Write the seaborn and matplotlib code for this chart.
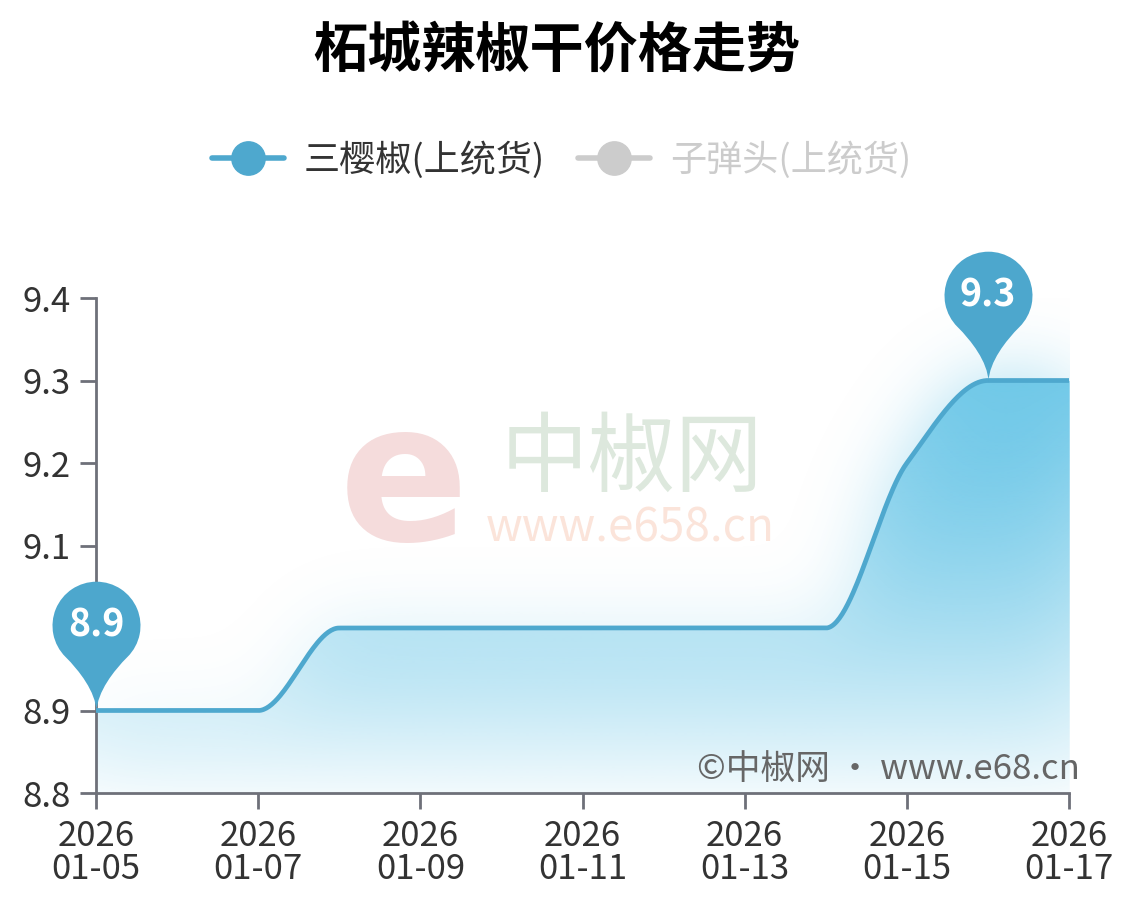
import numpy as np
import matplotlib
matplotlib.use("Agg")
import matplotlib.pyplot as plt
from matplotlib.path import Path
from matplotlib.lines import Line2D
from matplotlib.markers import MarkerStyle
from matplotlib.colors import to_rgb
import pandas as pd
import seaborn as sns

# 数据
year = "2026"
dates = ["01-05", "01-06", "01-07", "01-08", "01-09", "01-10", "01-11",
         "01-12", "01-13", "01-14", "01-15", "01-16", "01-17"]
prices = [8.9, 8.9, 8.9, 9.0, 9.0, 9.0, 9.0, 9.0, 9.0, 9.0, 9.2, 9.3, 9.3]
series_names = ["三樱椒(上统货)", "子弹头(上统货)"]
y_ticks = [8.8, 8.9, 9.0, 9.1, 9.2, 9.3, 9.4]
y_labels = ["8.8", "8.9", "", "9.1", "9.2", "9.3", "9.4"]
title = "柘城辣椒干价格走势"

LINE = "#4ea8ce"
PIN = "#4da7cd"
AXIS = "#6e7079"
FILL = np.array(to_rgb("#62c3e6"))

sns.set_theme(style="ticks")
plt.rcParams['font.family'] = ['Noto Sans CJK SC', 'DejaVu Sans']
plt.rcParams['axes.unicode_minus'] = False

df = pd.DataFrame({"date": dates, "price": prices})
df["x"] = np.arange(len(df))


def smooth_curve(xs, ys):
    # 单调三次贝塞尔曲线 (不过冲), 返回采样点
    xs = np.asarray(xs, float)
    ys = np.asarray(ys, float)
    h = np.diff(xs)
    d = np.diff(ys) / h
    m = np.zeros_like(ys)
    for i in range(1, len(ys) - 1):
        if d[i - 1] * d[i] > 0:
            m[i] = 2 / (1 / d[i - 1] + 1 / d[i])
    verts = [(xs[0], ys[0])]
    codes = [Path.MOVETO]
    for i in range(len(xs) - 1):
        verts += [(xs[i] + h[i] / 3, ys[i] + m[i] * h[i] / 3),
                  (xs[i + 1] - h[i] / 3, ys[i + 1] - m[i + 1] * h[i] / 3),
                  (xs[i + 1], ys[i + 1])]
        codes += [Path.CURVE4] * 3
    ts = np.linspace(0, 1, 60)
    pts = [np.array(verts[:1])]
    for seg, _ in Path(verts, codes).iter_bezier():
        if seg.degree == 3:
            pts.append(seg(ts)[1:])
    return np.vstack(pts)


def pin_path():
    c = 1.95
    s = np.sqrt(0.5)
    k = 0.45
    arc = Path.arc(-45, 225)
    av = arc.vertices + np.array([0, c])
    verts = [(0, 0), (0.02, 0.45), (s - k * s, c - s - k * s), (s, c - s)]
    codes = [Path.MOVETO, Path.CURVE4, Path.CURVE4, Path.CURVE4]
    verts += [tuple(v) for v in av[1:]]
    codes += list(arc.codes[1:])
    verts += [(-s + k * s, c - s - k * s), (-0.02, 0.45), (0, 0), (0, 0)]
    codes += [Path.CURVE4, Path.CURVE4, Path.CURVE4, Path.CLOSEPOLY]
    return Path(np.array(verts), codes), c


def blur1d(a, kern, axis):
    return np.apply_along_axis(lambda r: np.convolve(r, kern, "same"), axis, a)


fig = plt.figure(figsize=(11.3, 9.09), dpi=100)
ax = fig.add_axes([0.08496, 0.12761, 0.8611, 0.54455])

curve = smooth_curve(df["x"], df["price"])
ymin = y_ticks[0]
ytop = max(prices)
xmax = df["x"].iloc[-1]

# 面积区域: 纵向渐变透明度 + 模糊阴影
poly = np.vstack([[0, ymin], curve, [xmax, ymin]])
area = Path(poly, closed=False)
gx = np.linspace(-0.6, xmax + 0.6, 1070)
gy = np.linspace(8.7, 9.6, 740)
GX, GY = np.meshgrid(gx, gy)
inside = area.contains_points(np.column_stack([GX.ravel(), GY.ravel()])).reshape(GX.shape)
inside &= (GX >= 0) & (GX <= xmax) & (GY >= ymin)
fa = 0.05 + 0.83 * np.clip((gy - ymin) / (ytop - ymin), 0, 1)
F = inside * fa[:, None]
kern = np.exp(-0.5 * (np.arange(-110, 111) / 38.0) ** 2)
kern /= kern.sum()
S = blur1d(blur1d(F, kern, 1), kern, 0) * 0.72
A = np.clip(F + S * (1 - F), 0, 1)
img = np.concatenate([np.broadcast_to(FILL, GX.shape + (3,)), A[..., None]], axis=2)
ax.imshow(img, extent=(gx[0], gx[-1], gy[0], gy[-1]), origin="lower",
          aspect="auto", interpolation="bilinear", zorder=1)

# 折线
sns.lineplot(x=curve[:, 0], y=curve[:, 1], sort=False, estimator=None,
             color=LINE, lw=3.4, solid_capstyle="round", zorder=3, ax=ax)

ax.set_xlim(0, xmax)
ax.set_ylim(y_ticks[0], y_ticks[-1])
ax.set_yticks(y_ticks)
ax.set_yticklabels(y_labels)
ax.set_xticks(df["x"][::2])
ax.set_xticklabels([f"{year}\n{d}" for d in df["date"][::2]], linespacing=0.95)
ax.tick_params(axis="both", length=11.5, width=2, color=AXIS,
               labelsize=25, labelcolor="#333333", pad=7)
for side in ["top", "right"]:
    ax.spines[side].set_visible(False)
for side in ["left", "bottom"]:
    ax.spines[side].set_color(AXIS)
    ax.spines[side].set_linewidth(2)
ax.set_facecolor("white")
ax.grid(False)

# 最大值 / 最小值 标记
pin, c = pin_path()
ms = MarkerStyle(pin)
rescale = np.max(np.abs(pin.vertices))
r_pt = 44 * 72 / 100
size = (r_pt * 2 * rescale) ** 2
mark = df.iloc[[int(np.argmin(prices)), int(np.argmax(prices))]]
sns.scatterplot(data=mark, x="x", y="price", marker=ms, s=size, color=PIN,
                linewidth=0, clip_on=False, zorder=6, legend=False, ax=ax)
for _, row in mark.iterrows():
    ax.annotate(f"{row['price']:.1f}", xy=(row["x"], row["price"]),
                xytext=(0, c * r_pt), textcoords="offset points",
                ha="center", va="center", color="white", fontsize=27,
                fontweight="bold", zorder=7, annotation_clip=False)
ax.set_xlabel("")
ax.set_ylabel("")

# 水印
fig.text(0.357, 0.465, "e", fontsize=138, fontweight="bold", color="#f5dcdc",
         family="DejaVu Sans", ha="center", va="center", zorder=0)
fig.text(0.559, 0.494, "中椒网", fontsize=63, color="#dde8dd",
         ha="center", va="center", zorder=0)
fig.text(0.558, 0.419, "www.e658.cn", fontsize=33, style="italic",
         color="#fbe4da", ha="center", va="center", zorder=0)
fig.text(0.956, 0.153, "©中椒网 · www.e68.cn", fontsize=25, color="#666666",
         ha="right", va="center")

# 标题和图例
fig.text(0.493, 0.943, title, fontsize=39, fontweight="bold", color="black",
         ha="center", va="center")
handles = [Line2D([0], [0], color=LINE, lw=4, marker="o", markersize=24),
           Line2D([0], [0], color="#cccccc", lw=4, marker="o", markersize=24)]
leg = fig.legend(handles, series_names, loc="center", bbox_to_anchor=(0.497, 0.824),
                 ncol=2, frameon=False, fontsize=26, handlelength=2.0,
                 handletextpad=0.55, columnspacing=0.9)
leg.get_texts()[0].set_color("#333333")
leg.get_texts()[1].set_color("#cccccc")

fig.savefig("out.png", dpi=100)
